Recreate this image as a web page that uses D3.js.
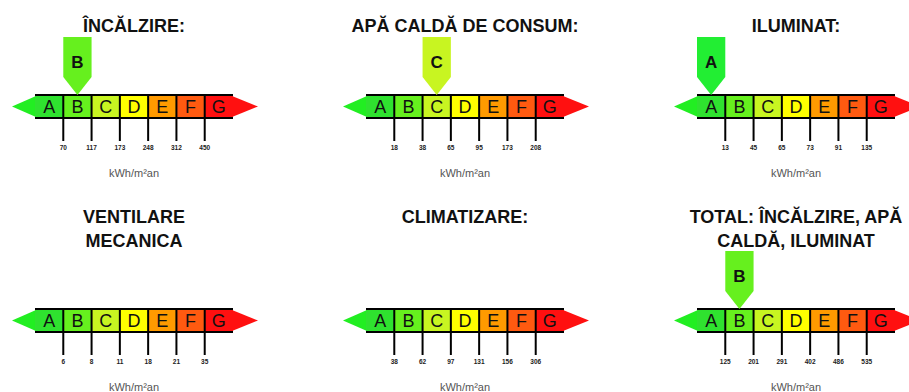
<!DOCTYPE html>
<meta charset="utf-8">
<style>
body { margin: 0; background: #fff; }
text { font-family: "Liberation Sans", Arial, sans-serif; }
.title { font-weight: bold; font-size: 18px; fill: #111; }
.seg-label { font-size: 18px; fill: #111; }
.mark-label { font-size: 17px; font-weight: bold; fill: #111; }
.lim { font-size: 6.5px; font-weight: bold; fill: #222; }
.unit { font-size: 11px; fill: #555; }
</style>
<svg width="909" height="392"></svg>
<script src="https://d3js.org/d3.v7.min.js"></script>
<script>

var classes = ["A", "B", "C", "D", "E", "F", "G"];
var classColors = ["#2fe22f", "#66f01e", "#c8f521", "#ffff00", "#ff9a00", "#ff5a10", "#ff1010"];

var titles = [
  ["ÎNCĂLZIRE:"],
  ["APĂ CALDĂ DE CONSUM:"],
  ["ILUMINAT:"],
  ["VENTILARE", "MECANICA"],
  ["CLIMATIZARE:"],
  ["TOTAL: ÎNCĂLZIRE, APĂ", "CALDĂ, ILUMINAT"]
];

var limits = [
  ["70", "117", "173", "248", "312", "450"],
  ["18", "38", "65", "95", "173", "208"],
  ["13", "45", "65", "73", "91", "135"],
  ["6", "8", "11", "18", "21", "35"],
  ["38", "62", "97", "131", "156", "306"],
  ["125", "201", "291", "402", "486", "535"]
];

var ratings = ["B", "C", "A", null, null, "B"];

var unitLabel = "kWh/m²an";

var svg = d3.select("svg");

var colX = [0, 331, 662],
    rowY = [0, 214],
    titleY = [32, 9],
    barTop = 95,
    barH = 23,
    tickEnd = 141;

var x = d3.scaleBand().domain(classes).range([35, 233]);
var color = d3.scaleOrdinal().domain(classes).range(classColors);

titles.forEach(function(t, i) {
  var col = i % 3, row = Math.floor(i / 3);
  var g = svg.append("g")
      .attr("transform", "translate(" + colX[col] + "," + rowY[row] + ")");
  var cx = (x.range()[0] + x.range()[1]) / 2;
  var bw = x.bandwidth();

  // title
  g.selectAll(".title")
    .data(t)
    .enter().append("text")
      .attr("class", "title")
      .attr("x", cx)
      .attr("y", function(d, j) { return titleY[row] + j * 24; })
      .attr("text-anchor", "middle")
      .text(function(d) { return d; });

  // arrow ends
  var x0 = x.range()[0], x1 = x.range()[1];
  g.append("path")
      .attr("d", "M" + (x0 - 23) + "," + (barTop + barH / 2) + "L" + (x0 + 1) + "," + (barTop + 1) +
        "L" + (x0 + 1) + "," + (barTop + barH - 1) + "Z")
      .attr("fill", "#22ee22");
  g.append("path")
      .attr("d", "M" + (x1 + 25) + "," + (barTop + barH / 2) + "L" + (x1 - 1) + "," + (barTop + 1) +
        "L" + (x1 - 1) + "," + (barTop + barH - 1) + "Z")
      .attr("fill", "#ff1010");

  // segments
  g.selectAll(".seg")
    .data(classes)
    .enter().append("rect")
      .attr("x", function(d) { return x(d); })
      .attr("y", barTop)
      .attr("width", bw)
      .attr("height", barH)
      .attr("fill", function(d) { return color(d); });

  g.selectAll(".seg-label")
    .data(classes)
    .enter().append("text")
      .attr("class", "seg-label")
      .attr("x", function(d) { return x(d) + bw / 2; })
      .attr("y", barTop + barH / 2 + 6.5)
      .attr("text-anchor", "middle")
      .text(function(d) { return d; });

  // top / bottom rules
  [barTop, barTop + barH].forEach(function(yy) {
    g.append("line")
        .attr("x1", x0).attr("x2", x1)
        .attr("y1", yy).attr("y2", yy)
        .attr("stroke", "#000").attr("stroke-width", 2);
  });

  // dividers + ticks
  var bounds = classes.slice(1);
  g.selectAll(".div")
    .data(bounds)
    .enter().append("line")
      .attr("x1", function(d) { return x(d); })
      .attr("x2", function(d) { return x(d); })
      .attr("y1", barTop)
      .attr("y2", tickEnd)
      .attr("stroke", "#000")
      .attr("stroke-width", 2);

  g.selectAll(".lim")
    .data(limits[i])
    .enter().append("text")
      .attr("class", "lim")
      .attr("x", function(d, j) { return x(bounds[j]); })
      .attr("y", tickEnd + 9)
      .attr("text-anchor", "middle")
      .text(function(d) { return d; });

  g.append("text")
      .attr("class", "unit")
      .attr("x", cx)
      .attr("y", 177)
      .attr("text-anchor", "middle")
      .text(unitLabel);

  // rating marker
  var r = ratings[i];
  if (r) {
    var mx = x(r), top = 37, body = 77;
    g.append("path")
        .attr("d", "M" + mx + "," + top + "H" + (mx + bw) + "V" + body +
          "L" + (mx + bw / 2) + "," + barTop + "L" + mx + "," + body + "Z")
        .attr("fill", r === "A" ? "#22ee33" : color(r));
    g.append("text")
        .attr("class", "mark-label")
        .attr("x", mx + bw / 2)
        .attr("y", 68)
        .attr("text-anchor", "middle")
        .text(r);
  }
});

</script>
